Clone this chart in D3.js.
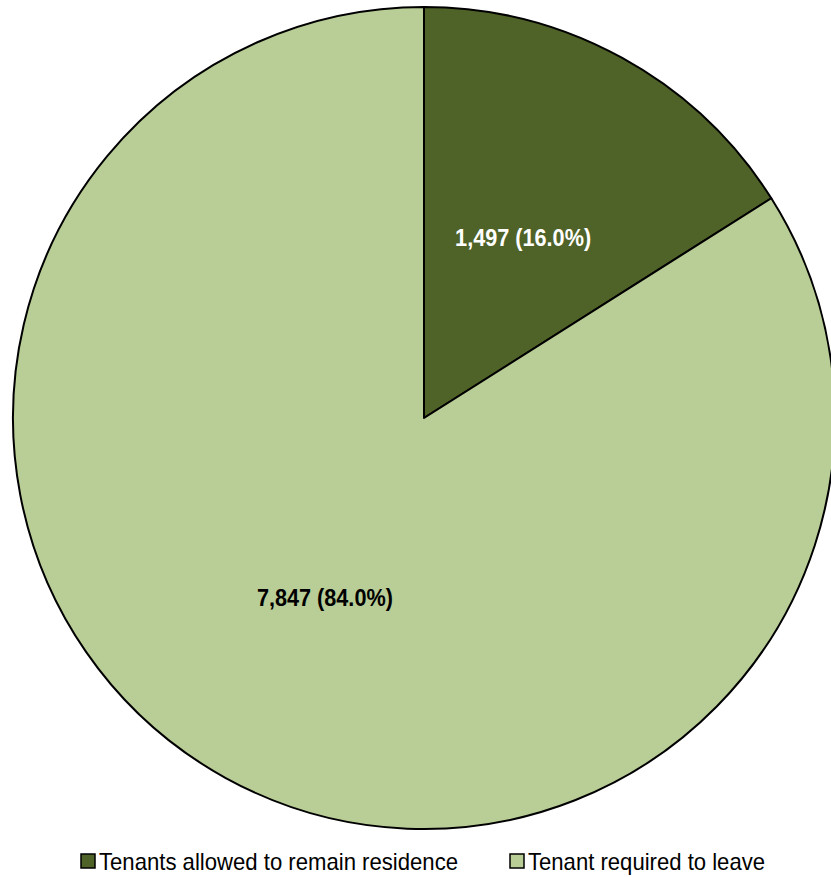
<!DOCTYPE html>
<html><head><meta charset="utf-8">
<script src="https://cdn.jsdelivr.net/npm/d3@7"></script>
<style>body{margin:0;background:#fff}svg{display:block}</style>
</head><body>
<svg id="chart" width="831" height="877"></svg>
<script>
const categories = ["Tenants allowed to remain residence", "Tenant required to leave"];
const values = [1497, 7847];
const labels = ["1,497 (16.0%)", "7,847 (84.0%)"];
const colors = ["#4F6228", "#B9CD96"];
const labelColors = ["#ffffff", "#000000"];

const svg = d3.select("#chart");
const cx = 424, cy = 418, r = 411;
const FONT = "'Liberation Sans Narrow','Arial Narrow','Liberation Sans',Arial,sans-serif";

const pie = d3.pie().sort(null).value(d => d)(values);
const arc = d3.arc().innerRadius(0).outerRadius(r);
const labelArc = d3.arc().innerRadius(r * 0.5).outerRadius(r * 0.5);

const g = svg.append("g").attr("transform", `translate(${cx},${cy})`);
g.selectAll("path").data(pie).join("path")
  .attr("d", arc)
  .attr("fill", (d, i) => colors[i])
  .attr("stroke", "#000").attr("stroke-width", 2).attr("stroke-linejoin", "round");

g.selectAll("text").data(pie).join("text")
  .attr("transform", d => `translate(${labelArc.centroid(d)})`)
  .attr("text-anchor", "middle").attr("dy", "0.35em")
  .attr("font-family", FONT).attr("font-weight", "bold").attr("font-size", 23)
  .attr("textLength", 136).attr("lengthAdjust", "spacingAndGlyphs")
  .attr("fill", (d, i) => labelColors[i])
  .text((d, i) => labels[i]);

const legendX = [81, 510];
const legendW = [359, 237];
const lg = svg.append("g");
categories.forEach((c, i) => {
  lg.append("rect").attr("x", legendX[i]).attr("y", 854).attr("width", 14).attr("height", 14)
    .attr("fill", colors[i]).attr("stroke", "#000").attr("stroke-width", 1.5);
  lg.append("text").attr("x", legendX[i] + 18).attr("y", 870)
    .attr("font-family", FONT).attr("font-size", 24).attr("fill", "#000")
    .attr("textLength", legendW[i]).attr("lengthAdjust", "spacingAndGlyphs")
    .text(c);
});
</script>
</body></html>
